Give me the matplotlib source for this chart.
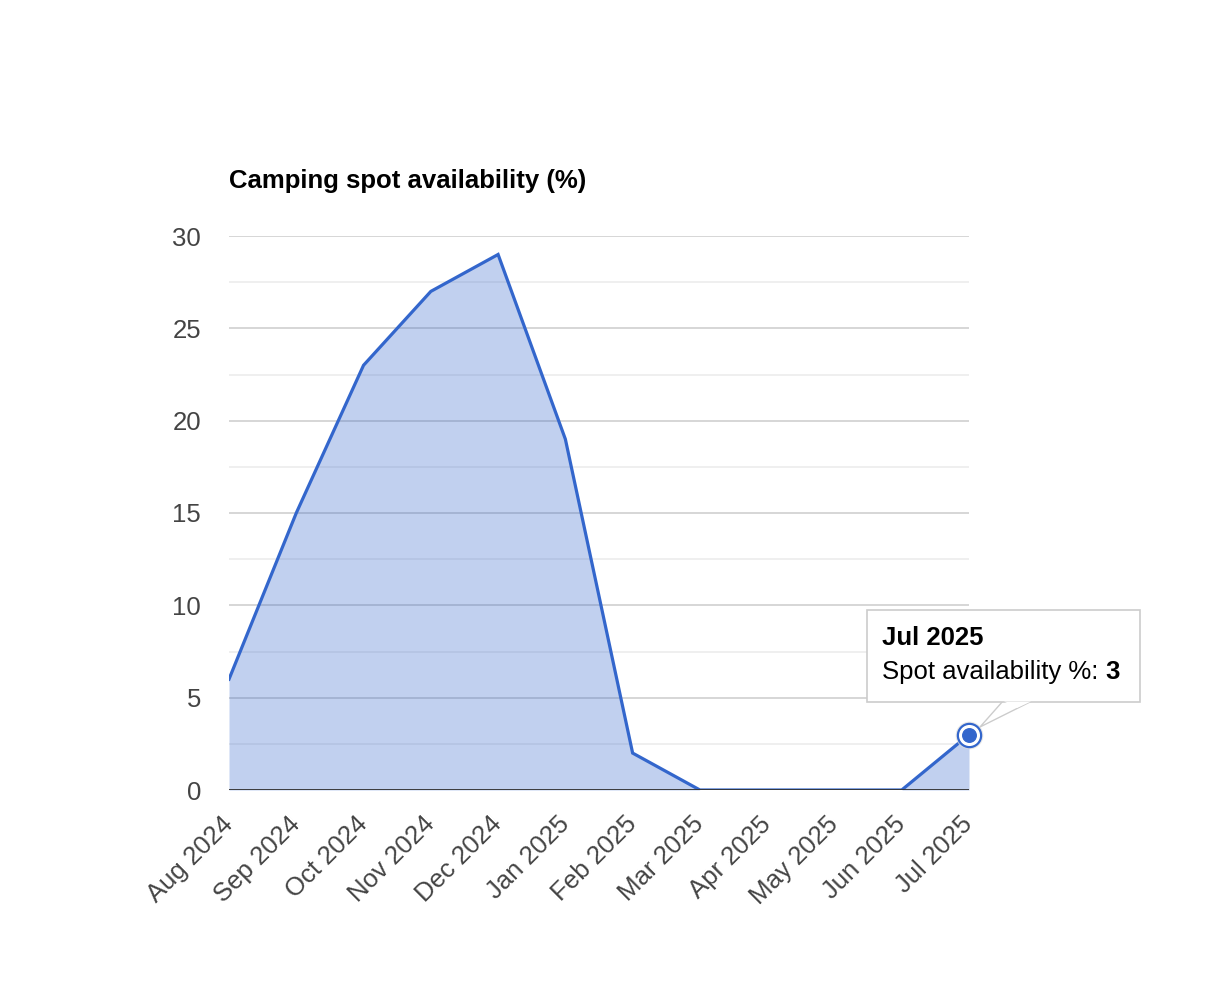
import matplotlib
matplotlib.use("Agg")
import matplotlib.pyplot as plt
from matplotlib.patches import Polygon, FancyBboxPatch
from matplotlib.ticker import MultipleLocator

months = ["Aug 2024", "Sep 2024", "Oct 2024", "Nov 2024", "Dec 2024", "Jan 2025",
          "Feb 2025", "Mar 2025", "Apr 2025", "May 2025", "Jun 2025", "Jul 2025"]
availability = [6, 15, 23, 27, 29, 19, 2, 0, 0, 0, 0, 3]
series_name = "Spot availability %"

plt.rcParams["font.family"] = ["Liberation Sans", "DejaVu Sans"]

W, H = 1210, 990
fig = plt.figure(figsize=(W / 100, H / 100), dpi=100)
ax = fig.add_axes([229 / W, 200 / H, 740 / W, 554 / H])

x = list(range(len(months)))
blue = "#3366cc"
fs = 18.5
ax.fill_between(x, availability, 0, color=blue, alpha=0.3, linewidth=0, zorder=2)
ax.plot(x, availability, color=blue, linewidth=2.3, zorder=3, solid_joinstyle="miter")

ax.set_xlim(0, len(months) - 1)
ax.set_ylim(0, 30)
ax.yaxis.set_major_locator(MultipleLocator(5))
ax.yaxis.set_minor_locator(MultipleLocator(2.5))
ax.grid(which="major", axis="y", color="#cccccc", linewidth=1.1, zorder=0)
ax.grid(which="minor", axis="y", color="#ebebeb", linewidth=1.1, zorder=0)
ax.axhline(0, color="#333333", linewidth=1.3, zorder=4)
for s in ax.spines.values():
    s.set_visible(False)

ax.set_xticks(x)
ax.set_xticklabels(months, rotation=45, ha="right", va="center", rotation_mode="anchor")
ax.tick_params(axis="both", which="both", length=0, labelsize=fs, labelcolor="#444444")
ax.tick_params(axis="x", pad=22)
ax.tick_params(axis="y", pad=20)

fig.text(229 / W, 1 - 181 / H, "Camping spot availability (%)", fontsize=fs,
         fontweight="bold", va="center", ha="left", color="#000000")

# highlighted point
last = len(months) - 1
ax.scatter([last], [availability[last]], s=360, color="#dddddd", alpha=0.6, zorder=5, clip_on=False)
ax.scatter([last], [availability[last]], s=300, color=blue, zorder=6, clip_on=False)
ax.scatter([last], [availability[last]], s=200, color="white", zorder=7, clip_on=False)
ax.scatter([last], [availability[last]], s=95, color=blue, zorder=8, clip_on=False)

# tooltip
def fx(px):
    return px / W

def fy(py):
    return 1 - py / H

pointer = Polygon([(fx(1003), fy(701)), (fx(1032), fy(701)), (fx(980), fy(727))],
                  closed=True, transform=fig.transFigure, facecolor="white",
                  edgecolor="#cccccc", linewidth=1, zorder=10)
fig.patches.append(pointer)
box = FancyBboxPatch((fx(867), fy(702)), fx(1140) - fx(867), fy(610) - fy(702),
                     boxstyle="square,pad=0", transform=fig.transFigure,
                     facecolor="white", edgecolor="#cccccc", linewidth=1.2, zorder=11)
fig.patches.append(box)
cover = Polygon([(fx(1004), fy(701.5)), (fx(1031), fy(701.5)), (fx(1017), fy(708))],
                closed=True, transform=fig.transFigure, facecolor="white",
                edgecolor="none", zorder=12)
fig.patches.append(cover)

fig.text(fx(882), fy(638), months[last], fontsize=fs, fontweight="bold",
         va="center", ha="left", zorder=13)
t = fig.text(fx(882), fy(672), f"{series_name}: ", fontsize=fs,
             va="center", ha="left", zorder=13)
fig.canvas.draw()
bb = t.get_window_extent()
fig.text(bb.x1 / W, fy(672), str(availability[last]), fontsize=fs, fontweight="bold",
         va="center", ha="left", zorder=13)

fig.savefig("out.png", dpi=100, facecolor="white")
